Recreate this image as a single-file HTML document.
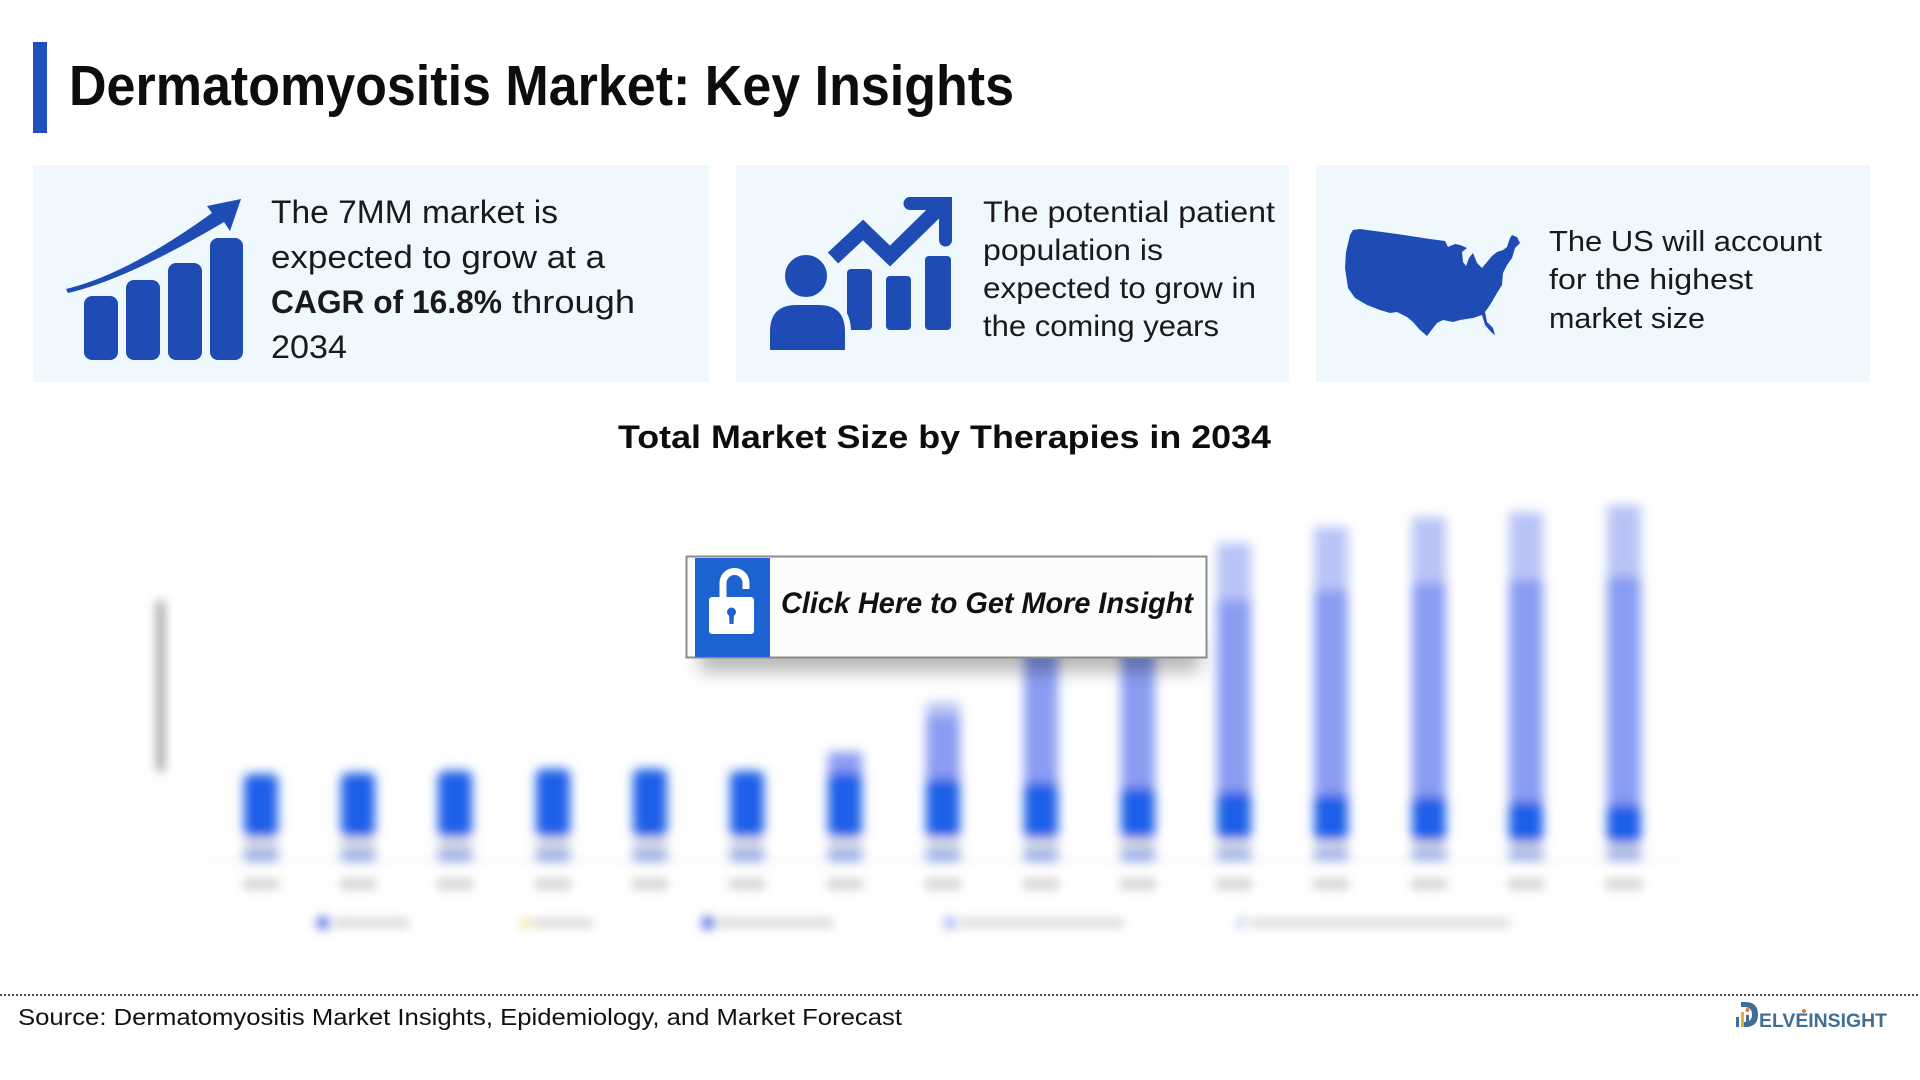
<!DOCTYPE html>
<html>
<head>
<meta charset="utf-8">
<style>
  html, body { margin: 0; padding: 0; background: #ffffff; }
  svg { display: block; }
  text { font-family: "Liberation Sans", sans-serif; }
</style>
</head>
<body>
<svg width="1920" height="1080" viewBox="0 0 1920 1080" xmlns="http://www.w3.org/2000/svg">
  <defs>
    <filter id="blurBars" x="-20%" y="-20%" width="140%" height="140%">
      <feGaussianBlur stdDeviation="5.5"/>
    </filter>
    <filter id="blurSoft" x="-20%" y="-50%" width="140%" height="200%">
      <feGaussianBlur stdDeviation="5"/>
    </filter>
    <filter id="blurAxis" x="-200%" y="-20%" width="500%" height="140%">
      <feGaussianBlur stdDeviation="5"/>
    </filter>
    <filter id="blurShadow" x="-20%" y="-100%" width="140%" height="300%">
      <feGaussianBlur stdDeviation="9"/>
    </filter>
  </defs>

  <rect x="0" y="0" width="1920" height="1080" fill="#ffffff"/>

  <!-- Title -->
  <rect x="33" y="42" width="14" height="91" fill="#1f4fbf"/>
  <text x="69" y="105" font-size="57" font-weight="bold" fill="#0d0d0d" textLength="945" lengthAdjust="spacingAndGlyphs">Dermatomyositis Market: Key Insights</text>

  <!-- Panels -->
  <rect x="33" y="165" width="676" height="217" fill="#eff8fd"/>
  <rect x="736" y="165" width="553" height="217" fill="#eff8fd"/>
  <rect x="1316" y="165" width="554" height="217" fill="#eff8fd"/>

  <!-- Panel 1 icon -->
  <g fill="#1e4bb4">
    <rect x="84" y="296" width="34" height="64" rx="8"/>
    <rect x="126" y="280" width="34" height="80" rx="8"/>
    <rect x="168" y="263" width="34" height="97" rx="8"/>
    <rect x="210" y="238" width="33" height="122" rx="8"/>
    <path d="M 66 289 Q 126 275 212 213 L 207 206 L 241 199 L 230 231 L 224 222 Q 128 279 68 293 Z"/>
  </g>

  <!-- Panel 1 text -->
  <g fill="#1a1a1a" font-size="32">
    <text x="271" y="223" textLength="287" lengthAdjust="spacingAndGlyphs">The 7MM market is</text>
    <text x="271" y="268" textLength="334" lengthAdjust="spacingAndGlyphs">expected to grow at a</text>
    <text x="271" y="313" font-weight="bold" textLength="231" lengthAdjust="spacingAndGlyphs">CAGR of 16.8%</text>
    <text x="512" y="313" textLength="123" lengthAdjust="spacingAndGlyphs">through</text>
    <text x="271" y="358" textLength="76" lengthAdjust="spacingAndGlyphs">2034</text>
  </g>

  <!-- Panel 2 icon -->
  <g fill="#1e4bb4">
    <rect x="847" y="269" width="25" height="61" rx="4"/>
    <rect x="886" y="276" width="25" height="54" rx="4"/>
    <rect x="925" y="256" width="26" height="74" rx="4"/>
    <polyline points="833,258 863,230 890,256 940,207" fill="none" stroke="#1e4bb4" stroke-width="15" stroke-linejoin="miter"/>
    <path d="M 910 203.5 L 945.5 203.5 L 945.5 240" fill="none" stroke="#1e4bb4" stroke-width="13" stroke-linecap="round" stroke-linejoin="miter"/>
    <path d="M 767 350 L 767 332 Q 767 302 797 302 L 818 302 Q 848 302 848 332 L 848 350 Q 848 353 845 353 L 770 353 Q 767 353 767 350 Z" stroke="#eff8fd" stroke-width="6"/>
    <circle cx="806" cy="276" r="24" stroke="#eff8fd" stroke-width="6"/>
  </g>

  <!-- Panel 2 text -->
  <g fill="#1a1a1a" font-size="30">
    <text x="983" y="222" textLength="292" lengthAdjust="spacingAndGlyphs">The potential patient</text>
    <text x="983" y="260" textLength="180" lengthAdjust="spacingAndGlyphs">population is</text>
    <text x="983" y="298" textLength="273" lengthAdjust="spacingAndGlyphs">expected to grow in</text>
    <text x="983" y="336" textLength="236" lengthAdjust="spacingAndGlyphs">the coming years</text>
  </g>

  <!-- Panel 3 US map -->
  <path fill="#1e4bb4" d="M 1353 230 L 1360 229 L 1397 234 L 1430 239 L 1445 241 L 1448 247 L 1455 244 L 1460 245 L 1467 248 L 1462 252 L 1463 262 L 1466 266 L 1469 258 L 1473 253 L 1477 263 L 1482 268 L 1487 262 L 1492 256 L 1497 252 L 1503 250 L 1507 247 L 1510 238 L 1512 235 L 1517 237 L 1520 243 L 1515 248 L 1512 258 L 1507 265 L 1503 273 L 1502 285 L 1497 293 L 1490 305 L 1485 312 L 1487 322 L 1493 328 L 1495 335 L 1492 333 L 1485 325 L 1482 315 L 1473 318 L 1460 320 L 1453 322 L 1443 320 L 1437 323 L 1430 332 L 1427 336 L 1420 330 L 1413 322 L 1407 317 L 1397 312 L 1390 313 L 1380 310 L 1367 305 L 1355 298 L 1348 288 L 1345 268 L 1346 252 L 1350 235 Z"/>

  <!-- Panel 3 text -->
  <g fill="#1a1a1a" font-size="29">
    <text x="1549" y="251" textLength="273" lengthAdjust="spacingAndGlyphs">The US will account</text>
    <text x="1549" y="289" textLength="204" lengthAdjust="spacingAndGlyphs">for the highest</text>
    <text x="1549" y="328" textLength="156" lengthAdjust="spacingAndGlyphs">market size</text>
  </g>

  <!-- Chart title -->
  <text x="618" y="448" font-size="32" font-weight="bold" fill="#0d0d0d" textLength="653" lengthAdjust="spacingAndGlyphs">Total Market Size by Therapies in 2034</text>

  <!-- Blurred chart -->
  <rect x="156" y="600" width="9" height="172" rx="4" fill="#a8a8a8" filter="url(#blurAxis)"/>
  <g filter="url(#blurSoft)">
    <rect x="205" y="859" width="1480" height="2" fill="#ececec"/>
    <g fill="#d0d0d0">
      <rect x="243" y="879" width="36" height="10"/>
      <rect x="340" y="879" width="36" height="10"/>
      <rect x="437" y="879" width="36" height="10"/>
      <rect x="535" y="879" width="36" height="10"/>
      <rect x="632" y="879" width="36" height="10"/>
      <rect x="729" y="879" width="36" height="10"/>
      <rect x="827" y="879" width="36" height="10"/>
      <rect x="925" y="879" width="36" height="10"/>
      <rect x="1023" y="879" width="36" height="10"/>
      <rect x="1120" y="879" width="36" height="10"/>
      <rect x="1216" y="879" width="36" height="10"/>
      <rect x="1313" y="879" width="36" height="10"/>
      <rect x="1411" y="879" width="36" height="10"/>
      <rect x="1508" y="879" width="36" height="10"/>
      <rect x="1606" y="879" width="36" height="10"/>
    </g>
    <!-- legend -->
    <rect x="317" y="917" width="12" height="12" fill="#5a7de2"/>
    <rect x="334" y="919" width="75" height="8" fill="#d2d2d2"/>
    <rect x="521" y="917" width="9" height="12" fill="#f0e6a8"/>
    <rect x="533" y="919" width="60" height="8" fill="#d4d4d4"/>
    <rect x="702" y="917" width="12" height="12" fill="#5577e2"/>
    <rect x="717" y="919" width="116" height="8" fill="#d2d2d2"/>
    <rect x="944" y="917" width="12" height="12" fill="#b0bbf4"/>
    <rect x="960" y="919" width="164" height="8" fill="#d6d6d6"/>
    <rect x="1236" y="917" width="10" height="12" fill="#d2daf9"/>
    <rect x="1250" y="919" width="260" height="8" fill="#d8d8d8"/>
  </g>

  <g filter="url(#blurBars)">
    <!-- grey bands and small bottom segments -->
    <g fill="#d6d9df">
      <rect x="244" y="839" width="34" height="10"/>
      <rect x="341" y="839" width="34" height="10"/>
      <rect x="438" y="839" width="34" height="10"/>
      <rect x="536" y="839" width="34" height="10"/>
      <rect x="633" y="839" width="34" height="10"/>
      <rect x="730" y="839" width="34" height="10"/>
      <rect x="828" y="839" width="34" height="10"/>
      <rect x="926" y="839" width="34" height="10"/>
      <rect x="1024" y="839" width="34" height="10"/>
      <rect x="1121" y="839" width="34" height="10"/>
      <rect x="1217" y="841" width="34" height="8"/>
      <rect x="1314" y="842" width="34" height="7"/>
      <rect x="1412" y="842" width="34" height="7"/>
      <rect x="1509" y="843" width="34" height="6"/>
      <rect x="1607" y="844" width="34" height="5"/>
    </g>
    <g fill="#8ea6e6">
      <rect x="244" y="850" width="34" height="11"/>
      <rect x="341" y="850" width="34" height="11"/>
      <rect x="438" y="850" width="34" height="11"/>
      <rect x="536" y="850" width="34" height="11"/>
      <rect x="633" y="850" width="34" height="11"/>
      <rect x="730" y="850" width="34" height="11"/>
      <rect x="828" y="850" width="34" height="11"/>
      <rect x="926" y="850" width="34" height="11"/>
      <rect x="1024" y="850" width="34" height="11"/>
      <rect x="1121" y="850" width="34" height="11"/>
      <rect x="1217" y="850" width="34" height="10"/>
      <rect x="1314" y="850" width="34" height="10"/>
      <rect x="1412" y="850" width="34" height="10"/>
      <rect x="1509" y="850" width="34" height="10"/>
      <rect x="1607" y="850" width="34" height="10"/>
    </g>
    <!-- light top segments -->
    <g fill="#b9c4f6">
      <rect x="926" y="702" width="34" height="20"/>
      <rect x="1024" y="575" width="34" height="40"/>
      <rect x="1121" y="565" width="34" height="45"/>
      <rect x="1217" y="543" width="34" height="60"/>
      <rect x="1314" y="527" width="34" height="66"/>
      <rect x="1412" y="517" width="34" height="69"/>
      <rect x="1509" y="512" width="34" height="71"/>
      <rect x="1607" y="505" width="34" height="75"/>
    </g>
    <!-- lavender segments -->
    <g fill="#8a9cf2">
      <rect x="828" y="752" width="34" height="24"/>
      <rect x="926" y="716" width="34" height="66"/>
      <rect x="1024" y="610" width="34" height="176"/>
      <rect x="1121" y="605" width="34" height="186"/>
      <rect x="1217" y="600" width="34" height="195"/>
      <rect x="1314" y="590" width="34" height="208"/>
      <rect x="1412" y="583" width="34" height="217"/>
      <rect x="1509" y="580" width="34" height="225"/>
      <rect x="1607" y="577" width="34" height="231"/>
    </g>
    <!-- dark segments -->
    <g fill="#1f5fe8">
      <rect x="244" y="774" width="34" height="63" rx="6"/>
      <rect x="341" y="773" width="34" height="64" rx="6"/>
      <rect x="438" y="771" width="34" height="66" rx="6"/>
      <rect x="536" y="769" width="34" height="68" rx="6"/>
      <rect x="633" y="769" width="34" height="68" rx="6"/>
      <rect x="730" y="771" width="34" height="66" rx="6"/>
      <rect x="828" y="773" width="34" height="64" rx="4"/>
      <rect x="926" y="779" width="34" height="58" rx="4"/>
      <rect x="1024" y="783" width="34" height="55" rx="4"/>
      <rect x="1121" y="788" width="34" height="50" rx="4"/>
      <rect x="1217" y="792" width="34" height="47" rx="4"/>
      <rect x="1314" y="795" width="34" height="45" rx="4"/>
      <rect x="1412" y="797" width="34" height="44" rx="4"/>
      <rect x="1509" y="802" width="34" height="40" rx="4"/>
      <rect x="1607" y="805" width="34" height="38" rx="4"/>
    </g>
  </g>

  <!-- Button shadow -->
  <rect x="700" y="640" width="500" height="32" fill="#000000" opacity="0.28" filter="url(#blurShadow)"/>

  <!-- Button -->
  <rect x="686.5" y="556.5" width="520" height="101" fill="#fbfcfe" stroke="#8c8c8c" stroke-width="2"/>
  <rect x="695" y="558" width="75" height="99" fill="#1d63d0"/>
  <!-- lock -->
  <path d="M 723 598 L 723 583 A 11.5 11.5 0 0 1 746 583 L 746 589" fill="none" stroke="#ffffff" stroke-width="7" stroke-linecap="butt"/>
  <rect x="709" y="597" width="45" height="37" rx="3" fill="#ffffff"/>
  <circle cx="731.5" cy="612" r="4.5" fill="#1d63d0"/>
  <path d="M 729 613 L 734 613 L 733.5 624 L 729.5 624 Z" fill="#1d63d0"/>
  <text x="781" y="613" font-size="30" font-weight="bold" font-style="italic" fill="#111111" textLength="412" lengthAdjust="spacingAndGlyphs">Click Here to Get More Insight</text>

  <!-- Footer -->
  <line x1="0" y1="995" x2="1920" y2="995" stroke="#4a4a4a" stroke-width="2" stroke-dasharray="2,2"/>
  <text x="18" y="1025" font-size="23" fill="#111111" textLength="884" lengthAdjust="spacingAndGlyphs">Source: Dermatomyositis Market Insights, Epidemiology, and Market Forecast</text>

  <!-- Logo -->
  <g>
    <path d="M 1741 1002 L 1745 1002 Q 1758 1002 1758 1014.5 Q 1758 1027 1745 1027 L 1741 1027 L 1741 1022 L 1744 1022 Q 1752 1022 1752 1014.5 Q 1752 1007 1744 1007 L 1741 1007 Z" fill="#3f6e96"/>
    <rect x="1736" y="1017" width="3" height="10" fill="#3f6e96"/>
    <rect x="1741" y="1012" width="3" height="15" fill="#e0b040"/>
    <rect x="1746" y="1015" width="3" height="12" fill="#3f6e96"/>
    <circle cx="1747.5" cy="1010" r="2" fill="#e07a30"/>
    <text x="1759" y="1027" font-size="19" font-weight="bold" fill="#3f6e96" textLength="128" lengthAdjust="spacingAndGlyphs">ELVEINSIGHT</text>
    <circle cx="1804" cy="1011" r="2" fill="#e07a30"/>
  </g>
</svg>
</body>
</html>
